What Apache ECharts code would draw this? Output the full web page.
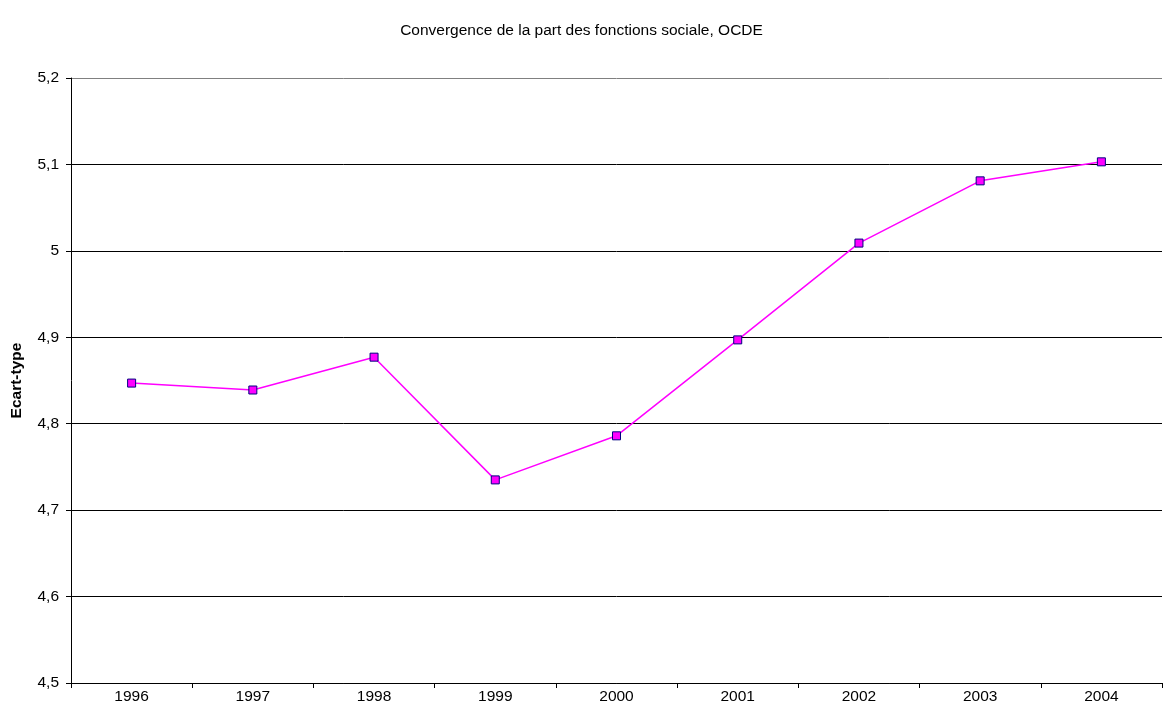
<!DOCTYPE html>
<html>
<head>
<meta charset="utf-8">
<script src="https://cdn.jsdelivr.net/npm/echarts@6/dist/echarts.min.js"></script>
<style>
  html, body { margin: 0; padding: 0; background: #fff; }
  #chart { width: 1163px; height: 717px; }
</style>
</head>
<body>
<div id="chart"></div>
<script>
// Years and standard deviation of the share of social functions (OECD)
const years = ['1996', '1997', '1998', '1999', '2000', '2001', '2002', '2003', '2004'];
const ecartType = [4.847, 4.839, 4.877, 4.735, 4.786, 4.897, 5.009, 5.081, 5.103];
const yMin = 4.5;
const yMax = 5.2;
const yStep = 0.1;

const font = '"Liberation Sans", Arial, sans-serif';
const chart = echarts.init(document.getElementById('chart'), null, { renderer: 'canvas' });

// Gridline colours: the topmost line is grey, the others black
const gridColors = ['#000', '#000', '#000', '#000', '#000', '#000', '#000', '#808080'];

chart.setOption({
  animation: false,
  backgroundColor: '#fff',
  textStyle: { fontFamily: font },
  title: {
    text: 'Convergence de la part des fonctions sociale, OCDE',
    left: 'center',
    top: 18,
    textStyle: { fontFamily: font, fontSize: 15.5, fontWeight: 'normal', color: '#000' }
  },
  grid: { left: 71, right: 1, top: 78, bottom: 34 },
  xAxis: {
    type: 'category',
    data: years,
    boundaryGap: true,
    axisLine: { show: true, lineStyle: { color: '#000', width: 1 } },
    axisTick: { show: true, length: 5, alignWithLabel: false, lineStyle: { color: '#000' } },
    axisLabel: { color: '#000', fontSize: 15.5, fontFamily: font, margin: 6 },
    splitLine: { show: false }
  },
  yAxis: {
    type: 'value',
    min: yMin,
    max: yMax,
    interval: yStep,
    name: 'Ecart-type',
    nameLocation: 'middle',
    nameGap: 46,
    nameRotate: 90,
    nameTextStyle: { fontFamily: font, fontSize: 15.5, fontWeight: 'bold', color: '#000' },
    axisLine: { show: true, lineStyle: { color: '#000', width: 1 } },
    axisTick: { show: true, length: 5, lineStyle: { color: '#000' } },
    axisLabel: {
      color: '#000',
      fontSize: 15.5,
      fontFamily: font,
      margin: 12,
      formatter: v => String(Math.round(v * 10) / 10).replace('.', ',')
    },
    splitLine: { show: true, lineStyle: { color: gridColors, width: 1 } }
  },
  series: [{
    type: 'line',
    data: ecartType,
    symbol: 'rect',
    symbolSize: 8,
    lineStyle: { color: '#FF00FF', width: 1.5 },
    itemStyle: { color: '#FF00FF', borderColor: '#000080', borderWidth: 1 },
    z: 3
  }]
});
</script>
</body>
</html>
